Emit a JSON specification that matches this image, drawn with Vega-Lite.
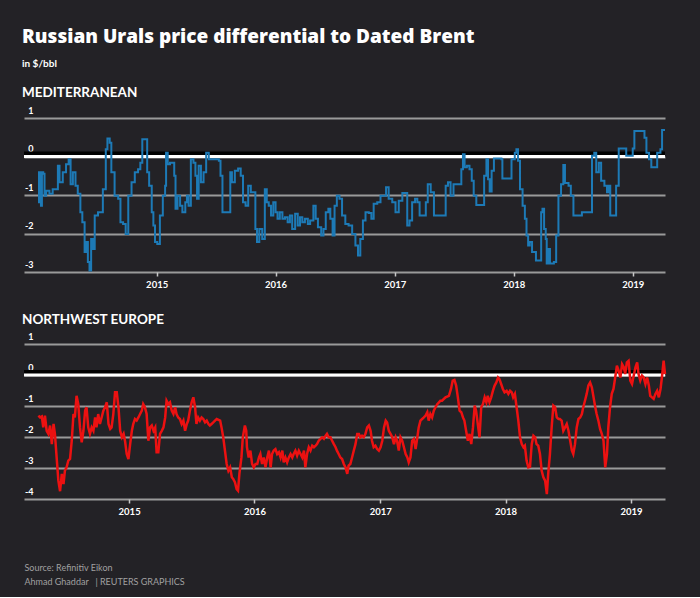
{
  "$schema": "https://vega.github.io/schema/vega-lite/v6.json",
  "background": "#232226",
  "padding": {"left": 22, "right": 37, "top": 27, "bottom": 11},
  "title": {
    "text": "Russian Urals price differential to Dated Brent",
    "subtitle": "in $/bbl",
    "anchor": "start",
    "font": "Open Sans",
    "fontSize": 19,
    "fontWeight": 800,
    "color": "#ffffff",
    "subtitleFont": "Lato",
    "subtitleFontSize": 10,
    "subtitleFontWeight": "bold",
    "subtitleColor": "#ffffff",
    "subtitlePadding": 12,
    "offset": 17
  },
  "datasets": {
    "med": [
      {"date":"2014-01-02","usd":-1.19},{"date":"2014-01-05","usd":-0.41},{"date":"2014-01-08","usd":-0.41},{"date":"2014-01-11","usd":-1.28},{"date":"2014-01-14","usd":-0.41},{"date":"2014-01-18","usd":-0.45},{"date":"2014-01-22","usd":-1.02},{"date":"2014-01-27","usd":-0.89},{"date":"2014-02-06","usd":-0.97},{"date":"2014-02-16","usd":-0.85},{"date":"2014-02-27","usd":-0.85},{"date":"2014-03-04","usd":-0.24},{"date":"2014-03-09","usd":-0.67},{"date":"2014-03-19","usd":-0.41},{"date":"2014-03-29","usd":-0.2},{"date":"2014-04-06","usd":-0.07},{"date":"2014-04-12","usd":-0.72},{"date":"2014-04-19","usd":-0.41},{"date":"2014-04-27","usd":-0.76},{"date":"2014-05-04","usd":-0.97},{"date":"2014-05-12","usd":-1.45},{"date":"2014-05-18","usd":-1.71},{"date":"2014-05-25","usd":-2.48},{"date":"2014-05-30","usd":-2.22},{"date":"2014-06-04","usd":-2.74},{"date":"2014-06-09","usd":-2.96},{"date":"2014-06-14","usd":-2.14},{"date":"2014-06-20","usd":-2.4},{"date":"2014-06-25","usd":-1.53},{"date":"2014-07-05","usd":-1.45},{"date":"2014-07-15","usd":-1.45},{"date":"2014-07-20","usd":-0.85},{"date":"2014-07-29","usd":0.19},{"date":"2014-08-03","usd":0.47},{"date":"2014-08-10","usd":0.36},{"date":"2014-08-15","usd":-0.41},{"date":"2014-08-25","usd":-1.02},{"date":"2014-09-05","usd":-1.1},{"date":"2014-09-12","usd":-1.71},{"date":"2014-09-20","usd":-1.75},{"date":"2014-09-28","usd":-2.01},{"date":"2014-10-06","usd":-1.02},{"date":"2014-10-16","usd":-0.67},{"date":"2014-10-26","usd":-0.41},{"date":"2014-11-05","usd":-0.33},{"date":"2014-11-12","usd":-0.16},{"date":"2014-11-18","usd":0.45},{"date":"2014-11-28","usd":0.45},{"date":"2014-12-03","usd":-0.41},{"date":"2014-12-09","usd":-0.76},{"date":"2014-12-17","usd":-1.45},{"date":"2014-12-22","usd":-1.79},{"date":"2014-12-27","usd":-2.22},{"date":"2015-01-03","usd":-2.27},{"date":"2015-01-11","usd":-1.53},{"date":"2015-01-20","usd":-1.02},{"date":"2015-01-27","usd":-0.76},{"date":"2015-01-30","usd":0.1},{"date":"2015-02-04","usd":-0.2},{"date":"2015-02-11","usd":-0.16},{"date":"2015-02-18","usd":-0.16},{"date":"2015-02-24","usd":-0.5},{"date":"2015-02-28","usd":-1.36},{"date":"2015-03-06","usd":-1.02},{"date":"2015-03-14","usd":-1.28},{"date":"2015-03-21","usd":-1.45},{"date":"2015-03-30","usd":-1.19},{"date":"2015-04-04","usd":-1.02},{"date":"2015-04-09","usd":-1.28},{"date":"2015-04-16","usd":-0.07},{"date":"2015-04-24","usd":-0.16},{"date":"2015-04-30","usd":-0.5},{"date":"2015-05-05","usd":-1.1},{"date":"2015-05-10","usd":-0.24},{"date":"2015-05-17","usd":-0.67},{"date":"2015-05-25","usd":-0.41},{"date":"2015-06-02","usd":0.1},{"date":"2015-06-10","usd":-0.07},{"date":"2015-06-25","usd":-0.07},{"date":"2015-07-11","usd":-0.11},{"date":"2015-07-16","usd":-0.5},{"date":"2015-07-22","usd":-1.45},{"date":"2015-08-10","usd":-1.45},{"date":"2015-08-15","usd":-0.41},{"date":"2015-08-20","usd":-0.67},{"date":"2015-08-29","usd":-0.37},{"date":"2015-09-08","usd":-0.31},{"date":"2015-09-16","usd":-0.5},{"date":"2015-09-23","usd":-1.19},{"date":"2015-10-01","usd":-1.28},{"date":"2015-10-09","usd":-0.76},{"date":"2015-10-17","usd":-0.93},{"date":"2015-10-26","usd":-0.93},{"date":"2015-10-31","usd":-1.88},{"date":"2015-11-05","usd":-2.22},{"date":"2015-11-12","usd":-1.88},{"date":"2015-11-21","usd":-2.14},{"date":"2015-11-29","usd":-0.85},{"date":"2015-12-05","usd":-1.19},{"date":"2015-12-11","usd":-1.28},{"date":"2015-12-18","usd":-1.53},{"date":"2015-12-25","usd":-1.19},{"date":"2016-01-01","usd":-1.45},{"date":"2016-01-07","usd":-1.62},{"date":"2016-01-14","usd":-1.45},{"date":"2016-01-22","usd":-1.62},{"date":"2016-01-30","usd":-1.58},{"date":"2016-02-07","usd":-1.71},{"date":"2016-02-14","usd":-1.53},{"date":"2016-02-21","usd":-1.88},{"date":"2016-03-01","usd":-1.49},{"date":"2016-03-09","usd":-1.79},{"date":"2016-03-16","usd":-1.58},{"date":"2016-03-23","usd":-1.71},{"date":"2016-03-31","usd":-1.62},{"date":"2016-04-09","usd":-1.75},{"date":"2016-04-16","usd":-1.66},{"date":"2016-04-26","usd":-1.28},{"date":"2016-05-03","usd":-1.62},{"date":"2016-05-10","usd":-1.84},{"date":"2016-05-20","usd":-2.05},{"date":"2016-05-27","usd":-1.88},{"date":"2016-06-03","usd":-1.45},{"date":"2016-06-11","usd":-1.36},{"date":"2016-06-17","usd":-1.62},{"date":"2016-06-24","usd":-2.05},{"date":"2016-06-30","usd":-1.28},{"date":"2016-07-07","usd":-1.02},{"date":"2016-07-15","usd":-1.1},{"date":"2016-07-23","usd":-1.53},{"date":"2016-08-02","usd":-1.75},{"date":"2016-08-12","usd":-1.79},{"date":"2016-08-23","usd":-2.01},{"date":"2016-09-02","usd":-2.31},{"date":"2016-09-10","usd":-2.57},{"date":"2016-09-17","usd":-2.14},{"date":"2016-09-25","usd":-1.66},{"date":"2016-10-03","usd":-1.45},{"date":"2016-10-13","usd":-1.47},{"date":"2016-10-21","usd":-1.62},{"date":"2016-10-28","usd":-1.23},{"date":"2016-11-08","usd":-1.19},{"date":"2016-11-18","usd":-1.02},{"date":"2016-11-28","usd":-1.02},{"date":"2016-12-05","usd":-0.8},{"date":"2016-12-13","usd":-1.1},{"date":"2016-12-24","usd":-1.19},{"date":"2017-01-03","usd":-1.45},{"date":"2017-01-13","usd":-1.15},{"date":"2017-01-24","usd":-0.95},{"date":"2017-02-03","usd":-0.95},{"date":"2017-02-08","usd":-1.79},{"date":"2017-02-15","usd":-1.66},{"date":"2017-02-23","usd":-1.19},{"date":"2017-03-04","usd":-1.1},{"date":"2017-03-11","usd":-1.19},{"date":"2017-03-18","usd":-1.53},{"date":"2017-03-28","usd":-1.53},{"date":"2017-04-06","usd":-1.19},{"date":"2017-04-12","usd":-0.72},{"date":"2017-04-21","usd":-0.93},{"date":"2017-05-01","usd":-1.53},{"date":"2017-05-27","usd":-1.53},{"date":"2017-06-06","usd":-0.76},{"date":"2017-06-13","usd":-0.67},{"date":"2017-06-21","usd":-1.02},{"date":"2017-06-30","usd":-0.72},{"date":"2017-07-13","usd":-0.72},{"date":"2017-07-24","usd":-0.33},{"date":"2017-07-29","usd":0.06},{"date":"2017-08-03","usd":-0.28},{"date":"2017-08-10","usd":-0.24},{"date":"2017-08-18","usd":-0.33},{"date":"2017-08-25","usd":-0.63},{"date":"2017-08-31","usd":-1.02},{"date":"2017-09-08","usd":-1.26},{"date":"2017-09-27","usd":-1.26},{"date":"2017-10-02","usd":-0.5},{"date":"2017-10-09","usd":-0.07},{"date":"2017-10-14","usd":-0.59},{"date":"2017-10-19","usd":-0.91},{"date":"2017-10-25","usd":-0.37},{"date":"2017-11-01","usd":-0.05},{"date":"2017-11-24","usd":-0.07},{"date":"2017-11-27","usd":-0.57},{"date":"2017-12-20","usd":-0.57},{"date":"2017-12-25","usd":-0.07},{"date":"2018-01-04","usd":0.1},{"date":"2018-01-09","usd":0.19},{"date":"2018-01-14","usd":-0.11},{"date":"2018-01-20","usd":-0.85},{"date":"2018-01-28","usd":-1.28},{"date":"2018-02-04","usd":-1.62},{"date":"2018-02-09","usd":-2.05},{"date":"2018-02-14","usd":-2.31},{"date":"2018-02-19","usd":-2.22},{"date":"2018-02-26","usd":-2.48},{"date":"2018-03-04","usd":-2.48},{"date":"2018-03-10","usd":-2.7},{"date":"2018-03-20","usd":-2.7},{"date":"2018-03-26","usd":-1.45},{"date":"2018-03-30","usd":-1.36},{"date":"2018-04-04","usd":-1.88},{"date":"2018-04-09","usd":-2.14},{"date":"2018-04-12","usd":-2.78},{"date":"2018-04-17","usd":-2.4},{"date":"2018-04-22","usd":-2.78},{"date":"2018-05-04","usd":-2.74},{"date":"2018-05-11","usd":-2.05},{"date":"2018-05-18","usd":-1.02},{"date":"2018-05-26","usd":-0.72},{"date":"2018-06-02","usd":-0.22},{"date":"2018-06-07","usd":-0.69},{"date":"2018-06-18","usd":-0.76},{"date":"2018-06-25","usd":-1.02},{"date":"2018-07-03","usd":-1.53},{"date":"2018-07-19","usd":-1.53},{"date":"2018-07-29","usd":-1.45},{"date":"2018-08-24","usd":-1.45},{"date":"2018-08-29","usd":0.02},{"date":"2018-09-05","usd":0.1},{"date":"2018-09-11","usd":-0.41},{"date":"2018-09-19","usd":-0.16},{"date":"2018-09-26","usd":-0.63},{"date":"2018-10-06","usd":-0.76},{"date":"2018-10-14","usd":-0.93},{"date":"2018-10-20","usd":-0.76},{"date":"2018-10-24","usd":-1.53},{"date":"2018-11-05","usd":-1.53},{"date":"2018-11-11","usd":-0.76},{"date":"2018-11-16","usd":-0.76},{"date":"2018-11-19","usd":0.21},{"date":"2018-12-06","usd":0.21},{"date":"2018-12-12","usd":0.02},{"date":"2018-12-25","usd":0.02},{"date":"2019-01-01","usd":0.21},{"date":"2019-01-06","usd":0.66},{"date":"2019-01-30","usd":0.66},{"date":"2019-02-06","usd":0.49},{"date":"2019-02-12","usd":0.1},{"date":"2019-02-20","usd":-0.07},{"date":"2019-02-27","usd":-0.28},{"date":"2019-03-12","usd":-0.28},{"date":"2019-03-17","usd":0.1},{"date":"2019-03-27","usd":0.19},{"date":"2019-04-01","usd":0.69},{"date":"2019-04-10","usd":0.69}
    ],
    "nwe": [
      {"date":"2014-04-12","usd":-1.31},{"date":"2014-04-17","usd":-1.37},{"date":"2014-04-22","usd":-1.34},{"date":"2014-04-26","usd":-1.69},{"date":"2014-05-01","usd":-1.31},{"date":"2014-05-06","usd":-1.8},{"date":"2014-05-11","usd":-1.9},{"date":"2014-05-16","usd":-1.63},{"date":"2014-05-21","usd":-2.23},{"date":"2014-05-26","usd":-1.58},{"date":"2014-05-30","usd":-1.9},{"date":"2014-06-04","usd":-2.66},{"date":"2014-06-09","usd":-3.41},{"date":"2014-06-14","usd":-3.75},{"date":"2014-06-19","usd":-3.19},{"date":"2014-06-24","usd":-3.52},{"date":"2014-06-28","usd":-3.09},{"date":"2014-07-03","usd":-2.98},{"date":"2014-07-08","usd":-2.76},{"date":"2014-07-13","usd":-2.71},{"date":"2014-07-18","usd":-2.12},{"date":"2014-07-23","usd":-1.26},{"date":"2014-07-27","usd":-1.37},{"date":"2014-08-01","usd":-0.67},{"date":"2014-08-06","usd":-0.94},{"date":"2014-08-11","usd":-1.69},{"date":"2014-08-16","usd":-2.17},{"date":"2014-08-21","usd":-1.8},{"date":"2014-08-26","usd":-1.15},{"date":"2014-08-30","usd":-1.04},{"date":"2014-09-04","usd":-1.69},{"date":"2014-09-09","usd":-1.9},{"date":"2014-09-14","usd":-1.69},{"date":"2014-09-19","usd":-1.8},{"date":"2014-09-24","usd":-1.37},{"date":"2014-09-28","usd":-1.69},{"date":"2014-10-03","usd":-1.26},{"date":"2014-10-08","usd":-1.58},{"date":"2014-10-13","usd":-1.37},{"date":"2014-10-18","usd":-1.15},{"date":"2014-10-23","usd":-1.04},{"date":"2014-10-28","usd":-0.88},{"date":"2014-11-02","usd":-1.58},{"date":"2014-11-07","usd":-1.74},{"date":"2014-11-11","usd":-1.69},{"date":"2014-11-16","usd":-1.26},{"date":"2014-11-21","usd":-0.56},{"date":"2014-11-26","usd":-0.56},{"date":"2014-12-01","usd":-1.04},{"date":"2014-12-06","usd":-1.8},{"date":"2014-12-11","usd":-2.01},{"date":"2014-12-16","usd":-1.9},{"date":"2014-12-20","usd":-2.12},{"date":"2014-12-25","usd":-2.55},{"date":"2014-12-30","usd":-2.71},
      {"date":"2015-01-04","usd":-2.23},{"date":"2015-01-09","usd":-1.8},{"date":"2015-01-13","usd":-1.58},{"date":"2015-01-18","usd":-1.42},{"date":"2015-01-23","usd":-1.47},{"date":"2015-01-28","usd":-1.37},{"date":"2015-02-02","usd":-1.26},{"date":"2015-02-07","usd":-1.15},{"date":"2015-02-11","usd":-0.94},{"date":"2015-02-16","usd":-1.04},{"date":"2015-02-21","usd":-1.26},{"date":"2015-02-26","usd":-2.12},{"date":"2015-03-03","usd":-1.69},{"date":"2015-03-08","usd":-1.63},{"date":"2015-03-13","usd":-1.8},{"date":"2015-03-18","usd":-1.69},{"date":"2015-03-22","usd":-2.49},{"date":"2015-03-27","usd":-2.49},{"date":"2015-04-01","usd":-1.9},{"date":"2015-04-06","usd":-1.8},{"date":"2015-04-11","usd":-1.69},{"date":"2015-04-16","usd":-1.37},{"date":"2015-04-20","usd":-0.83},{"date":"2015-04-25","usd":-0.94},{"date":"2015-04-30","usd":-0.88},{"date":"2015-05-05","usd":-1.15},{"date":"2015-05-10","usd":-1.26},{"date":"2015-05-15","usd":-1.04},{"date":"2015-05-19","usd":-1.26},{"date":"2015-05-24","usd":-1.37},{"date":"2015-05-29","usd":-1.42},{"date":"2015-06-03","usd":-1.58},{"date":"2015-06-08","usd":-1.47},{"date":"2015-06-13","usd":-1.8},{"date":"2015-06-18","usd":-1.58},{"date":"2015-06-22","usd":-1.47},{"date":"2015-06-27","usd":-1.15},{"date":"2015-07-02","usd":-0.88},{"date":"2015-07-07","usd":-0.72},{"date":"2015-07-12","usd":-1.04},{"date":"2015-07-16","usd":-1.58},{"date":"2015-07-21","usd":-1.37},{"date":"2015-07-26","usd":-1.47},{"date":"2015-07-31","usd":-1.37},{"date":"2015-08-05","usd":-1.42},{"date":"2015-08-10","usd":-1.53},{"date":"2015-08-15","usd":-1.47},{"date":"2015-08-20","usd":-1.58},{"date":"2015-08-24","usd":-1.63},{"date":"2015-08-29","usd":-1.58},{"date":"2015-09-03","usd":-1.53},{"date":"2015-09-08","usd":-1.47},{"date":"2015-09-13","usd":-1.42},{"date":"2015-09-23","usd":-1.47},{"date":"2015-09-27","usd":-1.69},{"date":"2015-10-02","usd":-2.01},{"date":"2015-10-07","usd":-2.44},{"date":"2015-10-12","usd":-2.87},{"date":"2015-10-17","usd":-3.09},{"date":"2015-10-22","usd":-2.98},{"date":"2015-10-27","usd":-3.3},{"date":"2015-10-31","usd":-3.35},{"date":"2015-11-05","usd":-3.46},{"date":"2015-11-10","usd":-3.68},{"date":"2015-11-14","usd":-3.73},{"date":"2015-11-18","usd":-3.19},{"date":"2015-11-24","usd":-2.66},{"date":"2015-11-28","usd":-2.01},{"date":"2015-12-04","usd":-1.63},{"date":"2015-12-08","usd":-1.8},{"date":"2015-12-10","usd":-2.33},{"date":"2015-12-15","usd":-2.66},{"date":"2015-12-20","usd":-2.44},{"date":"2015-12-25","usd":-2.87},{"date":"2015-12-30","usd":-2.98},
      {"date":"2016-01-04","usd":-2.87},{"date":"2016-01-09","usd":-2.87},{"date":"2016-01-14","usd":-2.66},{"date":"2016-01-18","usd":-2.55},{"date":"2016-01-23","usd":-2.87},{"date":"2016-01-28","usd":-2.66},{"date":"2016-02-02","usd":-2.98},{"date":"2016-02-07","usd":-2.66},{"date":"2016-02-12","usd":-2.44},{"date":"2016-02-17","usd":-2.98},{"date":"2016-02-21","usd":-2.55},{"date":"2016-02-26","usd":-2.44},{"date":"2016-03-02","usd":-2.39},{"date":"2016-03-07","usd":-2.55},{"date":"2016-03-12","usd":-2.49},{"date":"2016-03-17","usd":-2.66},{"date":"2016-03-22","usd":-2.44},{"date":"2016-03-26","usd":-2.82},{"date":"2016-03-31","usd":-2.66},{"date":"2016-04-05","usd":-2.82},{"date":"2016-04-10","usd":-2.66},{"date":"2016-04-15","usd":-2.55},{"date":"2016-04-20","usd":-2.66},{"date":"2016-04-24","usd":-2.55},{"date":"2016-04-29","usd":-2.44},{"date":"2016-05-04","usd":-2.6},{"date":"2016-05-09","usd":-2.44},{"date":"2016-05-14","usd":-2.55},{"date":"2016-05-19","usd":-2.66},{"date":"2016-05-24","usd":-2.44},{"date":"2016-05-28","usd":-2.98},{"date":"2016-06-02","usd":-2.55},{"date":"2016-06-07","usd":-2.33},{"date":"2016-06-12","usd":-2.44},{"date":"2016-06-17","usd":-2.28},{"date":"2016-06-22","usd":-2.33},{"date":"2016-06-27","usd":-2.28},{"date":"2016-07-01","usd":-2.23},{"date":"2016-07-06","usd":-2.12},{"date":"2016-07-11","usd":-2.06},{"date":"2016-07-16","usd":-2.01},{"date":"2016-07-21","usd":-2.06},{"date":"2016-07-26","usd":-1.96},{"date":"2016-07-30","usd":-1.9},{"date":"2016-08-04","usd":-2.01},{"date":"2016-08-09","usd":-2.01},{"date":"2016-08-14","usd":-2.12},{"date":"2016-08-19","usd":-2.23},{"date":"2016-08-24","usd":-2.33},{"date":"2016-08-28","usd":-2.44},{"date":"2016-09-02","usd":-2.55},{"date":"2016-09-07","usd":-2.66},{"date":"2016-09-12","usd":-2.71},{"date":"2016-09-17","usd":-2.87},{"date":"2016-09-22","usd":-2.98},{"date":"2016-09-27","usd":-3.19},{"date":"2016-10-01","usd":-2.92},{"date":"2016-10-06","usd":-2.87},{"date":"2016-10-11","usd":-2.66},{"date":"2016-10-16","usd":-2.44},{"date":"2016-10-21","usd":-2.23},{"date":"2016-10-26","usd":-1.9},{"date":"2016-10-31","usd":-1.9},{"date":"2016-11-04","usd":-2.01},{"date":"2016-11-09","usd":-1.96},{"date":"2016-11-14","usd":-2.01},{"date":"2016-11-19","usd":-1.9},{"date":"2016-11-24","usd":-1.69},{"date":"2016-11-29","usd":-1.63},{"date":"2016-12-04","usd":-1.8},{"date":"2016-12-08","usd":-2.12},{"date":"2016-12-13","usd":-2.33},{"date":"2016-12-18","usd":-2.28},{"date":"2016-12-23","usd":-2.39},{"date":"2016-12-28","usd":-2.44},
      {"date":"2017-01-02","usd":-2.33},{"date":"2017-01-07","usd":-2.12},{"date":"2017-01-12","usd":-1.69},{"date":"2017-01-17","usd":-1.47},{"date":"2017-01-21","usd":-1.53},{"date":"2017-01-26","usd":-1.8},{"date":"2017-01-31","usd":-1.9},{"date":"2017-02-05","usd":-2.01},{"date":"2017-02-10","usd":-2.23},{"date":"2017-02-15","usd":-2.01},{"date":"2017-02-19","usd":-2.12},{"date":"2017-02-24","usd":-2.44},{"date":"2017-03-01","usd":-2.01},{"date":"2017-03-06","usd":-2.12},{"date":"2017-03-11","usd":-2.33},{"date":"2017-03-16","usd":-2.55},{"date":"2017-03-21","usd":-2.66},{"date":"2017-03-25","usd":-2.82},{"date":"2017-03-30","usd":-2.66},{"date":"2017-04-04","usd":-2.12},{"date":"2017-04-09","usd":-2.06},{"date":"2017-04-14","usd":-2.39},{"date":"2017-04-19","usd":-2.01},{"date":"2017-04-23","usd":-1.69},{"date":"2017-04-28","usd":-1.47},{"date":"2017-05-03","usd":-1.42},{"date":"2017-05-08","usd":-1.37},{"date":"2017-05-13","usd":-1.31},{"date":"2017-05-18","usd":-1.2},{"date":"2017-05-22","usd":-1.47},{"date":"2017-05-27","usd":-1.26},{"date":"2017-06-01","usd":-1.37},{"date":"2017-06-06","usd":-1.15},{"date":"2017-06-11","usd":-1.04},{"date":"2017-06-16","usd":-0.94},{"date":"2017-06-21","usd":-0.88},{"date":"2017-06-25","usd":-0.83},{"date":"2017-06-30","usd":-0.83},{"date":"2017-07-10","usd":-0.72},{"date":"2017-07-20","usd":-0.67},{"date":"2017-07-26","usd":-0.45},{"date":"2017-07-31","usd":-0.18},{"date":"2017-08-05","usd":-0.16},{"date":"2017-08-10","usd":-0.34},{"date":"2017-08-15","usd":-0.72},{"date":"2017-08-20","usd":-1.15},{"date":"2017-08-25","usd":-1.2},{"date":"2017-08-30","usd":-1.37},{"date":"2017-09-03","usd":-1.47},{"date":"2017-09-08","usd":-1.8},{"date":"2017-09-13","usd":-2.12},{"date":"2017-09-18","usd":-1.9},{"date":"2017-09-23","usd":-2.23},{"date":"2017-09-28","usd":-1.69},{"date":"2017-10-03","usd":-0.99},{"date":"2017-10-07","usd":-1.15},{"date":"2017-10-12","usd":-1.58},{"date":"2017-10-17","usd":-2.01},{"date":"2017-10-22","usd":-1.04},{"date":"2017-10-27","usd":-0.94},{"date":"2017-11-01","usd":-0.72},{"date":"2017-11-06","usd":-0.88},{"date":"2017-11-10","usd":-0.67},{"date":"2017-11-15","usd":-0.88},{"date":"2017-11-20","usd":-0.72},{"date":"2017-11-25","usd":-0.51},{"date":"2017-11-30","usd":-0.34},{"date":"2017-12-05","usd":-0.24},{"date":"2017-12-10","usd":-0.08},{"date":"2017-12-14","usd":-0.13},{"date":"2017-12-19","usd":-0.29},{"date":"2017-12-24","usd":-0.45},{"date":"2017-12-29","usd":-0.56},
      {"date":"2018-01-04","usd":-0.51},{"date":"2018-01-09","usd":-0.61},{"date":"2018-01-14","usd":-0.51},{"date":"2018-01-19","usd":-0.56},{"date":"2018-01-23","usd":-0.72},{"date":"2018-01-28","usd":-0.61},{"date":"2018-02-02","usd":-1.04},{"date":"2018-02-07","usd":-1.47},{"date":"2018-02-12","usd":-2.01},{"date":"2018-02-17","usd":-2.23},{"date":"2018-02-22","usd":-2.33},{"date":"2018-02-26","usd":-2.28},{"date":"2018-03-03","usd":-2.76},{"date":"2018-03-08","usd":-2.98},{"date":"2018-03-13","usd":-2.96},{"date":"2018-03-18","usd":-2.23},{"date":"2018-03-23","usd":-1.96},{"date":"2018-03-28","usd":-2.01},{"date":"2018-04-01","usd":-2.23},{"date":"2018-04-06","usd":-2.28},{"date":"2018-04-11","usd":-2.55},{"date":"2018-04-16","usd":-3.09},{"date":"2018-04-21","usd":-3.3},{"date":"2018-04-26","usd":-3.41},{"date":"2018-05-01","usd":-3.84},{"date":"2018-05-05","usd":-3.19},{"date":"2018-05-10","usd":-2.55},{"date":"2018-05-15","usd":-1.69},{"date":"2018-05-20","usd":-0.99},{"date":"2018-05-25","usd":-1.04},{"date":"2018-05-30","usd":-1.37},{"date":"2018-06-04","usd":-1.42},{"date":"2018-06-08","usd":-1.42},{"date":"2018-06-13","usd":-1.47},{"date":"2018-06-18","usd":-1.8},{"date":"2018-06-23","usd":-1.69},{"date":"2018-06-28","usd":-1.58},{"date":"2018-07-03","usd":-1.8},{"date":"2018-07-08","usd":-2.12},{"date":"2018-07-13","usd":-2.44},{"date":"2018-07-17","usd":-2.55},{"date":"2018-07-22","usd":-2.23},{"date":"2018-07-27","usd":-1.69},{"date":"2018-08-01","usd":-1.42},{"date":"2018-08-06","usd":-1.37},{"date":"2018-08-11","usd":-1.26},{"date":"2018-08-15","usd":-1.04},{"date":"2018-08-20","usd":-0.83},{"date":"2018-08-25","usd":-0.61},{"date":"2018-08-30","usd":-0.34},{"date":"2018-09-04","usd":-0.24},{"date":"2018-09-09","usd":-0.4},{"date":"2018-09-14","usd":-0.72},{"date":"2018-09-19","usd":-1.04},{"date":"2018-09-23","usd":-1.26},{"date":"2018-09-28","usd":-1.47},{"date":"2018-10-03","usd":-1.74},{"date":"2018-10-08","usd":-1.9},{"date":"2018-10-13","usd":-2.12},{"date":"2018-10-18","usd":-2.98},{"date":"2018-10-23","usd":-2.55},{"date":"2018-10-27","usd":-1.69},{"date":"2018-11-01","usd":-1.04},{"date":"2018-11-06","usd":-0.61},{"date":"2018-11-11","usd":-0.45},{"date":"2018-11-16","usd":-0.08},{"date":"2018-11-21","usd":0.3},{"date":"2018-11-26","usd":0.14},{"date":"2018-12-01","usd":-0.08},{"date":"2018-12-06","usd":0.35},{"date":"2018-12-11","usd":0.25},{"date":"2018-12-15","usd":0.03},{"date":"2018-12-20","usd":0.41},{"date":"2018-12-25","usd":0.46},{"date":"2018-12-30","usd":-0.18},
      {"date":"2019-01-04","usd":-0.29},{"date":"2019-01-09","usd":-0.02},{"date":"2019-01-14","usd":0.25},{"date":"2019-01-19","usd":0.41},{"date":"2019-01-23","usd":0.03},{"date":"2019-01-28","usd":-0.18},{"date":"2019-02-02","usd":-0.02},{"date":"2019-02-07","usd":-0.08},{"date":"2019-02-12","usd":-0.29},{"date":"2019-02-17","usd":-0.08},{"date":"2019-02-22","usd":-0.34},{"date":"2019-02-26","usd":-0.67},{"date":"2019-03-03","usd":-0.72},{"date":"2019-03-08","usd":-0.77},{"date":"2019-03-13","usd":-0.61},{"date":"2019-03-18","usd":-0.51},{"date":"2019-03-23","usd":-0.72},{"date":"2019-03-28","usd":-0.45},{"date":"2019-04-01","usd":-0.08},{"date":"2019-04-06","usd":0.46},{"date":"2019-04-10","usd":0.03}
    ],
    "parity": [{"level": 0}]
  },
  "spacing": 23,
  "vconcat": [
    {
      "title": {"text": "MEDITERRANEAN", "anchor": "start", "font": "Lato", "fontSize": 13.5, "fontWeight": "bold", "color": "#ffffff", "offset": 7},
      "width": 641,
      "height": 154,
      "layer": [
        {
          "data": {"name": "parity"},
          "mark": {"type": "rule", "color": "#000000", "strokeWidth": 4, "yOffset": -3},
          "encoding": {
            "y": {
              "field": "level", "type": "quantitative",
              "scale": {"domain": [-3, 1], "nice": false, "zero": false},
              "axis": {"values": [-3, -2, -1, 0, 1], "labelOverlap": false, "labelExpr": "'' + datum.value", "title": null, "grid": true, "gridColor": "#9a9a9a", "gridWidth": 2, "domain": false, "ticks": false, "labelAlign": "right", "labelBaseline": "bottom", "labelPadding": -9, "labelOffset": -3, "labelColor": "#ffffff", "labelFont": "Lato", "labelFontWeight": "bold", "labelFontSize": 9}
            }
          }
        },
        {
          "data": {"name": "parity"},
          "mark": {"type": "rule", "color": "#ffffff", "strokeWidth": 3},
          "encoding": {
            "y": {
              "field": "level", "type": "quantitative",
              "axis": {"values": [-3, -2, -1, 0, 1], "labelOverlap": false, "labelExpr": "'' + datum.value", "title": null, "grid": true, "gridColor": "#9a9a9a", "gridWidth": 2, "domain": false, "ticks": false, "labelAlign": "right", "labelBaseline": "bottom", "labelPadding": -9, "labelOffset": -3, "labelColor": "#ffffff", "labelFont": "Lato", "labelFontWeight": "bold", "labelFontSize": 9}
            }
          }
        },
        {
          "data": {"name": "med"},
          "mark": {"type": "line", "interpolate": "step-after", "color": "#1d7ab6", "strokeWidth": 2},
          "encoding": {
            "x": {
              "field": "date", "type": "temporal",
              "scale": {"domain": [{"year": 2013, "month": 11, "date": 20}, {"year": 2019, "month": 4, "date": 10}]},
              "axis": {"values": [{"year": 2015}, {"year": 2016}, {"year": 2017}, {"year": 2018}, {"year": 2019}], "format": "%Y", "title": null, "grid": false, "domain": false, "tickSize": 4, "tickColor": "#c8c8c8", "tickWidth": 1.5, "labelFlush": false, "labelColor": "#ffffff", "labelFont": "Lato", "labelFontWeight": "bold", "labelFontSize": 9.5, "labelPadding": 3}
            },
            "y": {
              "field": "usd", "type": "quantitative",
              "axis": {"values": [-3, -2, -1, 0, 1], "labelOverlap": false, "labelExpr": "'' + datum.value", "title": null, "grid": true, "gridColor": "#9a9a9a", "gridWidth": 2, "domain": false, "ticks": false, "labelAlign": "right", "labelBaseline": "bottom", "labelPadding": -9, "labelOffset": -3, "labelColor": "#ffffff", "labelFont": "Lato", "labelFontWeight": "bold", "labelFontSize": 9}
            }
          }
        }
      ]
    },
    {
      "title": {"text": "NORTHWEST EUROPE", "anchor": "start", "font": "Lato", "fontSize": 13.5, "fontWeight": "bold", "color": "#ffffff", "offset": 6},
      "width": 641,
      "height": 155,
      "layer": [
        {
          "data": {"name": "parity"},
          "mark": {"type": "rule", "color": "#000000", "strokeWidth": 4, "yOffset": -3},
          "encoding": {
            "y": {
              "field": "level", "type": "quantitative",
              "scale": {"domain": [-4, 1], "nice": false, "zero": false},
              "axis": {"values": [-4, -3, -2, -1, 0, 1], "labelOverlap": false, "labelExpr": "'' + datum.value", "title": null, "grid": true, "gridColor": "#9a9a9a", "gridWidth": 2, "domain": false, "ticks": false, "labelAlign": "right", "labelBaseline": "bottom", "labelPadding": -9, "labelOffset": -3, "labelColor": "#ffffff", "labelFont": "Lato", "labelFontWeight": "bold", "labelFontSize": 9}
            }
          }
        },
        {
          "data": {"name": "parity"},
          "mark": {"type": "rule", "color": "#ffffff", "strokeWidth": 3},
          "encoding": {
            "y": {
              "field": "level", "type": "quantitative",
              "axis": {"values": [-4, -3, -2, -1, 0, 1], "labelOverlap": false, "labelExpr": "'' + datum.value", "title": null, "grid": true, "gridColor": "#9a9a9a", "gridWidth": 2, "domain": false, "ticks": false, "labelAlign": "right", "labelBaseline": "bottom", "labelPadding": -9, "labelOffset": -3, "labelColor": "#ffffff", "labelFont": "Lato", "labelFontWeight": "bold", "labelFontSize": 9}
            }
          }
        },
        {
          "data": {"name": "nwe"},
          "mark": {"type": "line", "color": "#ec1111", "strokeWidth": 2.5},
          "encoding": {
            "x": {
              "field": "date", "type": "temporal",
              "scale": {"domain": [{"year": 2014, "month": 3, "date": 1}, {"year": 2019, "month": 4, "date": 10}]},
              "axis": {"values": [{"year": 2015}, {"year": 2016}, {"year": 2017}, {"year": 2018}, {"year": 2019}], "format": "%Y", "grid": false, "domain": false, "tickSize": 4, "tickColor": "#c8c8c8", "tickWidth": 1.5, "labelFlush": false, "labelColor": "#ffffff", "labelFont": "Lato", "labelFontWeight": "bold", "labelFontSize": 9.5, "labelPadding": 3,
                "title": ["Source: Refinitiv Eikon", "Ahmad Ghaddar\u00a0\u00a0\u00a0| REUTERS GRAPHICS"],
                "titleAnchor": "start", "titleAlign": "left", "titleBaseline": "alphabetic", "titleX": 0, "titleY": 71,
                "titleFont": "Lato", "titleFontSize": 9, "titleFontWeight": "normal", "titleColor": "#a0a0a0", "titleLineHeight": 14}
            },
            "y": {
              "field": "usd", "type": "quantitative",
              "axis": {"values": [-4, -3, -2, -1, 0, 1], "labelOverlap": false, "labelExpr": "'' + datum.value", "title": null, "grid": true, "gridColor": "#9a9a9a", "gridWidth": 2, "domain": false, "ticks": false, "labelAlign": "right", "labelBaseline": "bottom", "labelPadding": -9, "labelOffset": -3, "labelColor": "#ffffff", "labelFont": "Lato", "labelFontWeight": "bold", "labelFontSize": 9}
            }
          }
        }
      ]
    }
  ],
  "config": {
    "view": {"stroke": null},
    "font": "Lato"
  }
}
